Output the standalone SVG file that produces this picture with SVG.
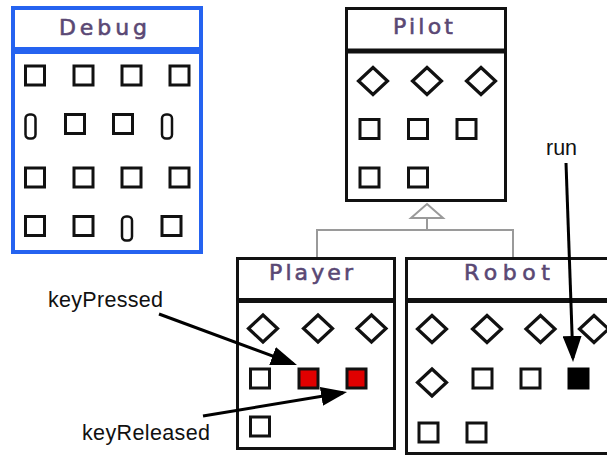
<svg xmlns="http://www.w3.org/2000/svg" width="607" height="456" viewBox="0 0 607 456">
<style>
.box{fill:#fff;stroke:#111;stroke-width:3}
.dbg{fill:#fff;stroke:#2563f0;stroke-width:4}
.hdr{font-family:"DejaVu Sans",sans-serif;font-size:22px;fill:#5a4874;stroke:#5a4874;stroke-width:0.6;text-anchor:middle}
.lbl{font-family:"Liberation Sans",Arial,sans-serif;font-size:21.5px;fill:#111}
.gen{fill:none;stroke:#9a9a9a;stroke-width:2}
.arr{fill:none;stroke:#000;stroke-width:3}
</style>
<defs>
<rect id="sq" x="-9.5" y="-9.5" width="19" height="19" fill="#fff" stroke="#111" stroke-width="3"/>
<rect id="rsq" x="-9.5" y="-9.5" width="19" height="19" fill="#e00000" stroke="#111" stroke-width="3"/>
<rect id="bsq" x="-9.5" y="-9.5" width="19" height="19" fill="#000" stroke="#000" stroke-width="3"/>
<path id="dm" d="M0,-13.5 L14.5,0 L0,13.5 L-14.5,0 Z" fill="#fff" stroke="#111" stroke-width="3.2"/>
<rect id="cap" x="-5" y="-12" width="10" height="24" rx="4" fill="#fff" stroke="#111" stroke-width="2.5"/>
<marker id="ah" markerUnits="userSpaceOnUse" markerWidth="26" markerHeight="19" refX="22" refY="9.5" orient="auto">
<path d="M0,0 L26,9.5 L0,19 Z" fill="#000"/>
</marker>
</defs>

<g id="Debug">
<rect class="dbg" x="13" y="8" width="188" height="244"/>
<rect x="13" y="47" width="188" height="7" fill="#2563f0"/>
<text class="hdr" x="103" y="35" textLength="88" lengthAdjust="spacing">Debug</text>
<use href="#sq" x="35" y="75.5"/><use href="#sq" x="83.5" y="75.5"/><use href="#sq" x="131.5" y="75.5"/><use href="#sq" x="179.5" y="75.5"/>
<use href="#cap" x="30.5" y="126.5"/><use href="#sq" x="75" y="124"/><use href="#sq" x="123" y="124"/><use href="#cap" x="167" y="126.5"/>
<use href="#sq" x="35" y="177.5"/><use href="#sq" x="83.5" y="177.5"/><use href="#sq" x="131.5" y="177.5"/><use href="#sq" x="179.5" y="177.5"/>
<use href="#sq" x="35" y="226"/><use href="#sq" x="83.5" y="226"/><use href="#cap" x="127" y="228.5"/><use href="#sq" x="171.5" y="226"/>
</g>

<g id="Pilot">
<rect class="box" x="346.5" y="8.5" width="159" height="192"/>
<rect x="346.5" y="48.5" width="159" height="5" fill="#111"/>
<text class="hdr" x="423" y="34" textLength="60" lengthAdjust="spacing">Pilot</text>
<use href="#dm" x="373" y="81"/><use href="#dm" x="427" y="81"/><use href="#dm" x="481" y="81"/>
<use href="#sq" x="369.5" y="129"/><use href="#sq" x="418" y="129"/><use href="#sq" x="466.5" y="129"/>
<use href="#sq" x="369.5" y="177.5"/><use href="#sq" x="418" y="177.5"/>
</g>

<g id="Player">
<rect class="box" x="237.5" y="258.5" width="157" height="190"/>
<rect x="237.5" y="298" width="157" height="5" fill="#111"/>
<text class="hdr" x="311" y="280" textLength="84" lengthAdjust="spacing">Player</text>
<use href="#dm" x="263" y="328.5"/><use href="#dm" x="318" y="328.5"/><use href="#dm" x="371.5" y="328.5"/>
<use href="#sq" x="260" y="378.5"/><use href="#rsq" x="308.5" y="378.5"/><use href="#rsq" x="356.5" y="378.5"/>
<use href="#sq" x="260" y="426.5"/>
</g>

<g id="Robot">
<rect class="box" x="406.5" y="258.5" width="220" height="195"/>
<rect x="406.5" y="298" width="220" height="5" fill="#111"/>
<text class="hdr" x="507" y="280" textLength="86" lengthAdjust="spacing">Robot</text>
<use href="#dm" x="432" y="329"/><use href="#dm" x="487" y="329"/><use href="#dm" x="540.5" y="329"/><use href="#dm" x="594" y="329"/>
<use href="#dm" x="432" y="382.5"/><use href="#sq" x="482.5" y="378.5"/><use href="#sq" x="530.5" y="378.5"/><use href="#bsq" x="578.5" y="378.5"/>
<use href="#sq" x="428.5" y="432.5"/><use href="#sq" x="476.5" y="432.5"/>
</g>

<g id="connectors">
<path class="gen" d="M427,218 V230 M317,257 V230 H513 V257"/>
<path d="M427,204 L443,218 L411,218 Z" fill="#fff" stroke="#9a9a9a" stroke-width="2"/>
<line class="arr" x1="159" y1="314" x2="293.2" y2="363.6" marker-end="url(#ah)"/>
<line class="arr" x1="203" y1="416" x2="343.1" y2="392.7" marker-end="url(#ah)"/>
<line class="arr" x1="566" y1="163" x2="572.9" y2="358" marker-end="url(#ah)"/>
</g>

<g id="labels">
<text class="lbl" x="48" y="306.5" textLength="115">keyPressed</text>
<text class="lbl" x="82" y="440" textLength="128">keyReleased</text>
<text class="lbl" x="546" y="155">run</text>
</g>
</svg>
